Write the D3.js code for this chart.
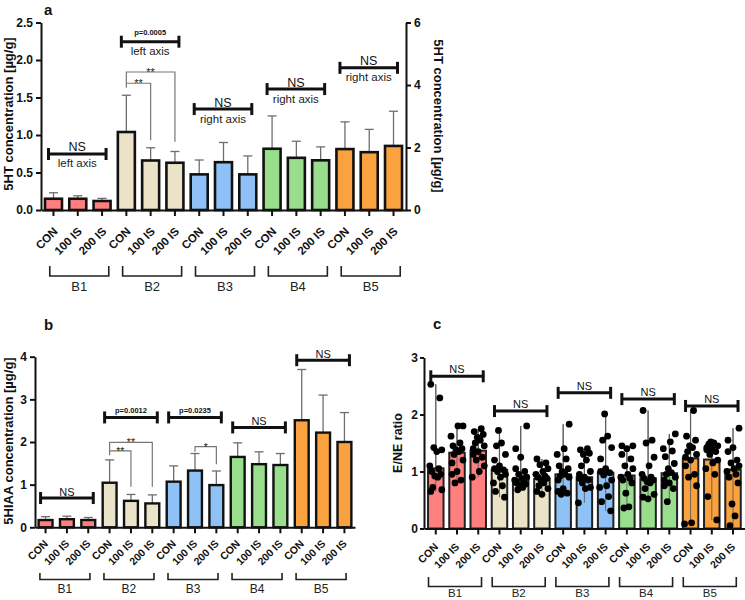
<!DOCTYPE html>
<html><head><meta charset="utf-8">
<script src="https://cdn.jsdelivr.net/npm/d3@7"></script>
<style>
body{margin:0;background:#fff}
svg{display:block}
text{font-family:"Liberation Sans",Arial,Helvetica,sans-serif}
</style>
</head><body>
<svg id="chart" width="745" height="600"></svg>
<script>
// ---------------- DATA ----------------
const groups = ["B1","B2","B3","B4","B5"];
const treatments = ["CON","100 IS","200 IS"];
const groupColors = ["#FF7F7F","#EAE3C8","#8EC1F6","#98DE8C","#FAA240"];

// Panel a: 5HT concentration; B1-B2 read on left axis, B3-B5 on right axis
const htAxisSide = ["left","left","right","right","right"];
const htMean   = [0.15,0.15,0.12, 1.04,0.66,0.63, 1.14,1.53,1.14, 1.96,1.67,1.59, 1.95,1.85,2.05];
const htErrTop = [0.23,0.19,0.155, 1.53,0.83,0.78, 1.60,2.16,1.73, 3.01,2.20,2.02, 2.82,2.58,3.16];
const leftTicksA = [0,0.5,1,1.5,2,2.5];
const rightTicksA = [0,2,4,6];

// Panel b: 5HIAA concentration
const hiaaMean   = [0.17,0.19,0.17, 1.045,0.62,0.56, 1.07,1.33,0.99, 1.65,1.48,1.46, 2.51,2.22,2.00];
const hiaaErrTop = [0.25,0.26,0.23, 1.58,0.77,0.76, 1.44,1.73,1.32, 1.98,1.77,1.73, 3.70,3.10,2.69];
const ticksB = [0,1,2,3,4];

// Panel c: E/NE ratio, median bars with individual points
const ratioMedian = [1.056,1.33,1.365, 1.03,0.86,0.87, 0.95,0.90,0.98, 0.93,0.88,0.97, 1.23,1.21,1.03];
const ratioPoints = [
  [2.53,2.29,1.42,1.38,1.35,1.10,1.05,1.00,0.95,0.92,0.90,0.72,0.68,0.65],
  [1.80,1.80,1.62,1.50,1.45,1.40,1.38,1.35,1.30,1.20,1.15,1.00,0.95,0.85,0.80],
  [1.75,1.70,1.65,1.60,1.55,1.50,1.45,1.40,1.35,1.30,1.25,1.20,1.10,1.00,0.90],
  [1.72,1.50,1.45,1.30,1.20,1.10,1.05,1.03,1.00,0.95,0.90,0.80,0.75,0.65,0.55],
  [1.80,1.40,1.25,1.05,1.00,0.95,0.90,0.88,0.85,0.82,0.80,0.78,0.75,0.72,0.68],
  [1.22,1.15,1.12,1.05,1.00,0.95,0.92,0.90,0.88,0.85,0.80,0.75,0.70,0.65,0.60],
  [1.83,1.40,1.30,1.22,1.10,1.05,1.00,0.95,0.92,0.90,0.85,0.70,0.65,0.62,0.60],
  [1.40,1.38,1.32,1.30,1.20,1.10,1.00,0.95,0.90,0.88,0.85,0.80,0.72,0.70,0.45],
  [2.01,1.62,1.55,1.42,1.22,1.05,1.00,0.98,0.94,0.85,0.75,0.72,0.56,0.47,0.31],
  [1.45,1.45,1.40,1.30,1.22,1.10,1.05,0.95,0.90,0.88,0.85,0.80,0.62,0.38,0.36],
  [2.07,1.55,1.50,1.25,1.10,0.95,0.90,0.88,0.85,0.82,0.80,0.70,0.60,0.55,0.52],
  [1.66,1.52,1.40,1.36,1.26,1.14,1.05,0.98,0.95,0.90,0.85,0.80,0.75,0.70,0.47],
  [2.07,1.62,1.55,1.45,1.42,1.35,1.30,1.25,1.20,1.10,0.95,0.90,0.75,0.10,0.08],
  [1.52,1.50,1.48,1.45,1.42,1.40,1.38,1.35,1.30,1.20,1.15,1.05,0.95,0.56,0.15],
  [1.76,1.55,1.42,1.35,1.20,1.15,1.10,1.05,1.00,0.95,0.90,0.80,0.43,0.22,0.05]
];
const ticksC = [0,1,2,3];

// Annotations (levels in the units of the axis used by that group)
const nsA = [
  {group:"B1", level:0.747, top:"NS", sub:"left axis"},
  {group:"B2", level:2.244, top:"p=0.0005", sub:"left axis"},
  {group:"B3", level:3.23, top:"NS", sub:"right axis"},
  {group:"B4", level:3.87, top:"NS", sub:"right axis"},
  {group:"B5", level:4.55, top:"NS", sub:"right axis"}
];
const sigA = [
  {group:"B2", from:0, to:1, level:1.69, foot:1.63, end:0.93, label:"**"},
  {group:"B2", from:0, to:2, level:1.84, foot:1.69, end:0.91, label:"**"}
];
const nsB = [
  {group:"B1", level:0.686, top:"NS"},
  {group:"B2", level:2.576, top:"p=0.0012"},
  {group:"B3", level:2.576, top:"p=0.0235"},
  {group:"B4", level:2.342, top:"NS"},
  {group:"B5", level:3.918, top:"NS"}
];
const sigB = [
  {group:"B2", from:0, to:1, level:1.79, foot:1.69, end:0.95, label:"**"},
  {group:"B2", from:0, to:2, level:1.99, foot:1.79, end:0.95, label:"**"},
  {group:"B3", from:1, to:2, level:1.89, foot:1.77, end:1.48, label:"*"}
];
const nsC = [
  {group:"B1", level:2.67, top:"NS"},
  {group:"B2", level:2.06, top:"NS"},
  {group:"B3", level:2.38, top:"NS"},
  {group:"B4", level:2.27, top:"NS"},
  {group:"B5", level:2.15, top:"NS"}
];

// ---------------- DRAWING ----------------
const svg = d3.select("#chart");
const keys = groups.flatMap(g => treatments.map(t => g + "|" + t));
const rows = keys.map((k, i) => ({key:k, i, gi:Math.floor(i/3), ti:i%3, group:groups[Math.floor(i/3)], treat:treatments[i%3]}));
const ERR = "#6e6e6e";
const FF = '"Liberation Sans", Arial, Helvetica, sans-serif';

function styleAxis(g, fs) {
  g.attr("font-family", FF);
  g.select(".domain").attr("stroke", "#111").attr("stroke-width", 2);
  g.selectAll(".tick line").attr("stroke", "#111").attr("stroke-width", 2);
  g.selectAll(".tick text").attr("fill", "#111").attr("font-size", fs).attr("font-weight", "bold");
}

function xAxis(g, x, y0, fs, dx, dy) {
  const ax = g.append("g").attr("transform", `translate(0,${y0})`)
    .call(d3.axisBottom(x).tickSize(6).tickSizeOuter(0).tickFormat(k => k.split("|")[1]));
  styleAxis(ax, fs);
  ax.selectAll(".tick text").attr("x", 0).attr("y", 0).attr("dy", 0)
    .attr("text-anchor", "end").attr("transform", `translate(${dx},${dy}) rotate(-45)`);
}

function groupCenter(x, g) {
  return d3.mean(treatments.map(t => x(g + "|" + t) + x.bandwidth()/2));
}
function cx(x, g, ti) { return x(g + "|" + treatments[ti]) + x.bandwidth()/2; }

function groupBrackets(g, x, yTop, yBot, yText, hw, shift, fs) {
  groups.forEach(gr => {
    const c = groupCenter(x, gr) + shift;
    g.append("path").attr("d", `M${c-hw},${yTop}V${yBot}H${c+hw}V${yTop}`)
      .attr("fill", "none").attr("stroke", "#222").attr("stroke-width", 1.6);
    g.append("text").attr("x", c).attr("y", yText).attr("text-anchor", "middle")
      .attr("font-size", fs).attr("fill", "#222").text(gr);
  });
}

function nsBrackets(g, x, yOf, list, opts) {
  list.forEach(a => {
    const gi = groups.indexOf(a.group);
    const y = yOf(gi)(a.level);
    const x0 = cx(x, a.group, 0) + opts.l, x1 = cx(x, a.group, 2) + opts.r;
    g.append("line").attr("x1", x0).attr("x2", x1).attr("y1", y).attr("y2", y)
      .attr("stroke", "#111").attr("stroke-width", 3);
    [x0, x1].forEach(xx => g.append("line").attr("x1", xx).attr("x2", xx)
      .attr("y1", y - opts.cap).attr("y2", y + opts.cap).attr("stroke", "#111").attr("stroke-width", 3));
    const isP = a.top.startsWith("p=");
    g.append("text").attr("x", (x0 + x1)/2).attr("y", y + (isP ? opts.pDy : opts.nsDy))
      .attr("text-anchor", "middle").attr("fill", "#111")
      .attr("font-size", isP ? opts.pFs : opts.nsFs).attr("font-weight", isP ? "bold" : "normal")
      .text(a.top);
    if (a.sub) g.append("text").attr("x", (x0 + x1)/2).attr("y", y + opts.subDy)
      .attr("text-anchor", "middle").attr("fill", "#222").attr("font-size", opts.subFs).text(a.sub);
  });
}

function sigBrackets(g, x, yOf, list, fs) {
  list.forEach(a => {
    const gi = groups.indexOf(a.group);
    const ys = yOf(gi);
    const x0 = cx(x, a.group, a.from), x1 = cx(x, a.group, a.to);
    const yl = ys(a.level);
    g.append("path").attr("d", `M${x0},${ys(a.foot)}V${yl}H${x1}V${ys(a.end)}`)
      .attr("fill", "none").attr("stroke", "#777").attr("stroke-width", 1.2);
    g.append("text").attr("x", (x0 + x1)/2).attr("y", yl + 4).attr("text-anchor", "middle")
      .attr("font-size", fs).attr("fill", "#222").text(a.label);
  });
}

function meanSdBars(g, x, yOf, means, errs, sw) {
  const bw = x.bandwidth();
  g.selectAll("line.err").data(rows).join("line").attr("class", "err")
    .attr("x1", d => x(d.key) + bw/2).attr("x2", d => x(d.key) + bw/2)
    .attr("y1", d => yOf(d.gi)(means[d.i])).attr("y2", d => yOf(d.gi)(errs[d.i]))
    .attr("stroke", ERR).attr("stroke-width", 1.3);
  g.selectAll("line.cap").data(rows).join("line").attr("class", "cap")
    .attr("x1", d => x(d.key) + bw/2 - 4.5).attr("x2", d => x(d.key) + bw/2 + 4.5)
    .attr("y1", d => yOf(d.gi)(errs[d.i])).attr("y2", d => yOf(d.gi)(errs[d.i]))
    .attr("stroke", ERR).attr("stroke-width", 1.3);
  g.selectAll("rect.bar").data(rows).join("rect").attr("class", "bar")
    .attr("x", d => x(d.key)).attr("width", bw)
    .attr("y", d => yOf(d.gi)(means[d.i]))
    .attr("height", d => yOf(d.gi)(0) - yOf(d.gi)(means[d.i]))
    .attr("fill", d => groupColors[d.gi]).attr("stroke", "#111").attr("stroke-width", sw);
}

function yTitle(g, x, y, text, fs, rot) {
  g.append("text").attr("transform", `translate(${x},${y}) rotate(${rot})`)
    .attr("text-anchor", "middle").attr("font-size", fs).attr("font-weight", "bold")
    .attr("fill", "#111").text(text);
}
function panelLabel(x, y, t) {
  svg.append("text").attr("x", x).attr("y", y).attr("font-size", 15).attr("font-weight", "bold")
    .attr("fill", "#111").text(t);
}

// ---- Panel a ----
{
  const g = svg.append("g");
  const x = d3.scaleBand().domain(keys).range([41, 406]).paddingInner(0.3).paddingOuter(0.164);
  const yL = d3.scaleLinear().domain([0, 2.5]).range([210, 22.5]);
  const yR = d3.scaleLinear().domain([0, 6]).range([210, 22.5]);
  const yOf = gi => htAxisSide[gi] === "left" ? yL : yR;
  meanSdBars(g, x, yOf, htMean, htErrTop, 2.6);
  const al = g.append("g").attr("transform", "translate(41,0)")
    .call(d3.axisLeft(yL).tickValues(leftTicksA).tickFormat(d3.format(".1f")).tickSize(5).tickSizeOuter(0).tickPadding(3));
  styleAxis(al, 12);
  const ar = g.append("g").attr("transform", "translate(406,0)")
    .call(d3.axisRight(yR).tickValues(rightTicksA).tickFormat(d3.format("d")).tickSize(5).tickSizeOuter(0).tickPadding(3));
  styleAxis(ar, 12);
  xAxis(g, x, 210, 11.5, 5, 22);
  groupBrackets(g, x, 266, 276, 291, 29.5, 1.5, 13);
  nsBrackets(g, x, yOf, nsA, {l:-5, r:4, cap:6, nsDy:-2.5, pDy:-7, subDy:13.5, nsFs:12.5, pFs:7.5, subFs:11.5});
  sigBrackets(g, x, yOf, sigA, 11);
  yTitle(g, 13, 114, "5HT concentration [µg/g]", 13, -90);
  yTitle(g, 434, 116, "5HT concentration [µg/g]", 13, 90);
  panelLabel(44, 15, "a");
}

// ---- Panel b ----
{
  const g = svg.append("g");
  const x = d3.scaleBand().domain(keys).range([35, 355]).paddingInner(0.35).paddingOuter(0.17);
  const y = d3.scaleLinear().domain([0, 4]).range([527.3, 356.7]);
  const yOf = () => y;
  meanSdBars(g, x, yOf, hiaaMean, hiaaErrTop, 2.4);
  const al = g.append("g").attr("transform", "translate(35,0)")
    .call(d3.axisLeft(y).tickValues(ticksB).tickFormat(d3.format("d")).tickSize(5).tickSizeOuter(0).tickPadding(3));
  styleAxis(al, 12);
  xAxis(g, x, 527.3, 10.5, 3, 17);
  groupBrackets(g, x, 573, 579.5, 593, 25, -2, 12);
  nsBrackets(g, x, yOf, nsB, {l:-5, r:5, cap:6, nsDy:-2, pDy:-4, subDy:0, nsFs:11, pFs:7.5, subFs:11});
  sigBrackets(g, x, yOf, sigB, 10.5);
  yTitle(g, 13, 441, "5HIAA concentration [µg/g]", 13, -90);
  panelLabel(44, 330, "b");
}

// ---- Panel c ----
{
  const g = svg.append("g");
  const x = d3.scaleBand().domain(keys).range([424, 744.8]).paddingInner(0.27).paddingOuter(0.19);
  const y = d3.scaleLinear().domain([0, 3]).range([528.5, 357.5]);
  const bw = x.bandwidth();
  const jitter = [-5, 4, -2, 6, 1, -6, 3, -4, 5, -1, 2, -3, 6, -5, 0];
  g.selectAll("line.rng").data(rows).join("line").attr("class", "rng")
    .attr("x1", d => x(d.key) + bw/2).attr("x2", d => x(d.key) + bw/2)
    .attr("y1", d => y(d3.min(ratioPoints[d.i]))).attr("y2", d => y(d3.max(ratioPoints[d.i])))
    .attr("stroke", ERR).attr("stroke-width", 1.2);
  g.selectAll("rect.bar").data(rows).join("rect").attr("class", "bar")
    .attr("x", d => x(d.key)).attr("width", bw)
    .attr("y", d => y(ratioMedian[d.i])).attr("height", d => y(0) - y(ratioMedian[d.i]))
    .attr("fill", d => groupColors[d.gi]).attr("stroke", "#222").attr("stroke-width", 2);
  g.selectAll("line.rng2").data(rows).join("line").attr("class", "rng2")
    .attr("x1", d => x(d.key) + bw/2).attr("x2", d => x(d.key) + bw/2)
    .attr("y1", d => y(d3.min(ratioPoints[d.i]))).attr("y2", d => y(d3.max(ratioPoints[d.i])))
    .attr("stroke", "#555").attr("stroke-width", 1).attr("opacity", 0.8);
  const pts = rows.flatMap(d => ratioPoints[d.i].map((v, j) => ({d, v, j})));
  g.selectAll("circle.pt").data(pts).join("circle").attr("class", "pt")
    .attr("cx", p => x(p.d.key) + bw/2 + jitter[(p.j + p.d.i*3) % jitter.length])
    .attr("cy", p => y(p.v)).attr("r", 3.4).attr("fill", "#000");
  const al = g.append("g").attr("transform", "translate(424,0)")
    .call(d3.axisLeft(y).tickValues(ticksC).tickFormat(d3.format("d")).tickSize(4).tickSizeOuter(0).tickPadding(2));
  styleAxis(al, 12);
  xAxis(g, x, 528.5, 10.5, 3, 19);
  groupBrackets(g, x, 577, 586.5, 597, 26.5, -2, 11.5);
  nsBrackets(g, x, () => y, nsC, {l:-5, r:5, cap:6, nsDy:-3, pDy:-4, subDy:0, nsFs:11, pFs:7.5, subFs:11});
  yTitle(g, 402, 443, "E/NE ratio", 12.5, -90);
  panelLabel(433, 329, "c");
}
</script>
</body></html>
